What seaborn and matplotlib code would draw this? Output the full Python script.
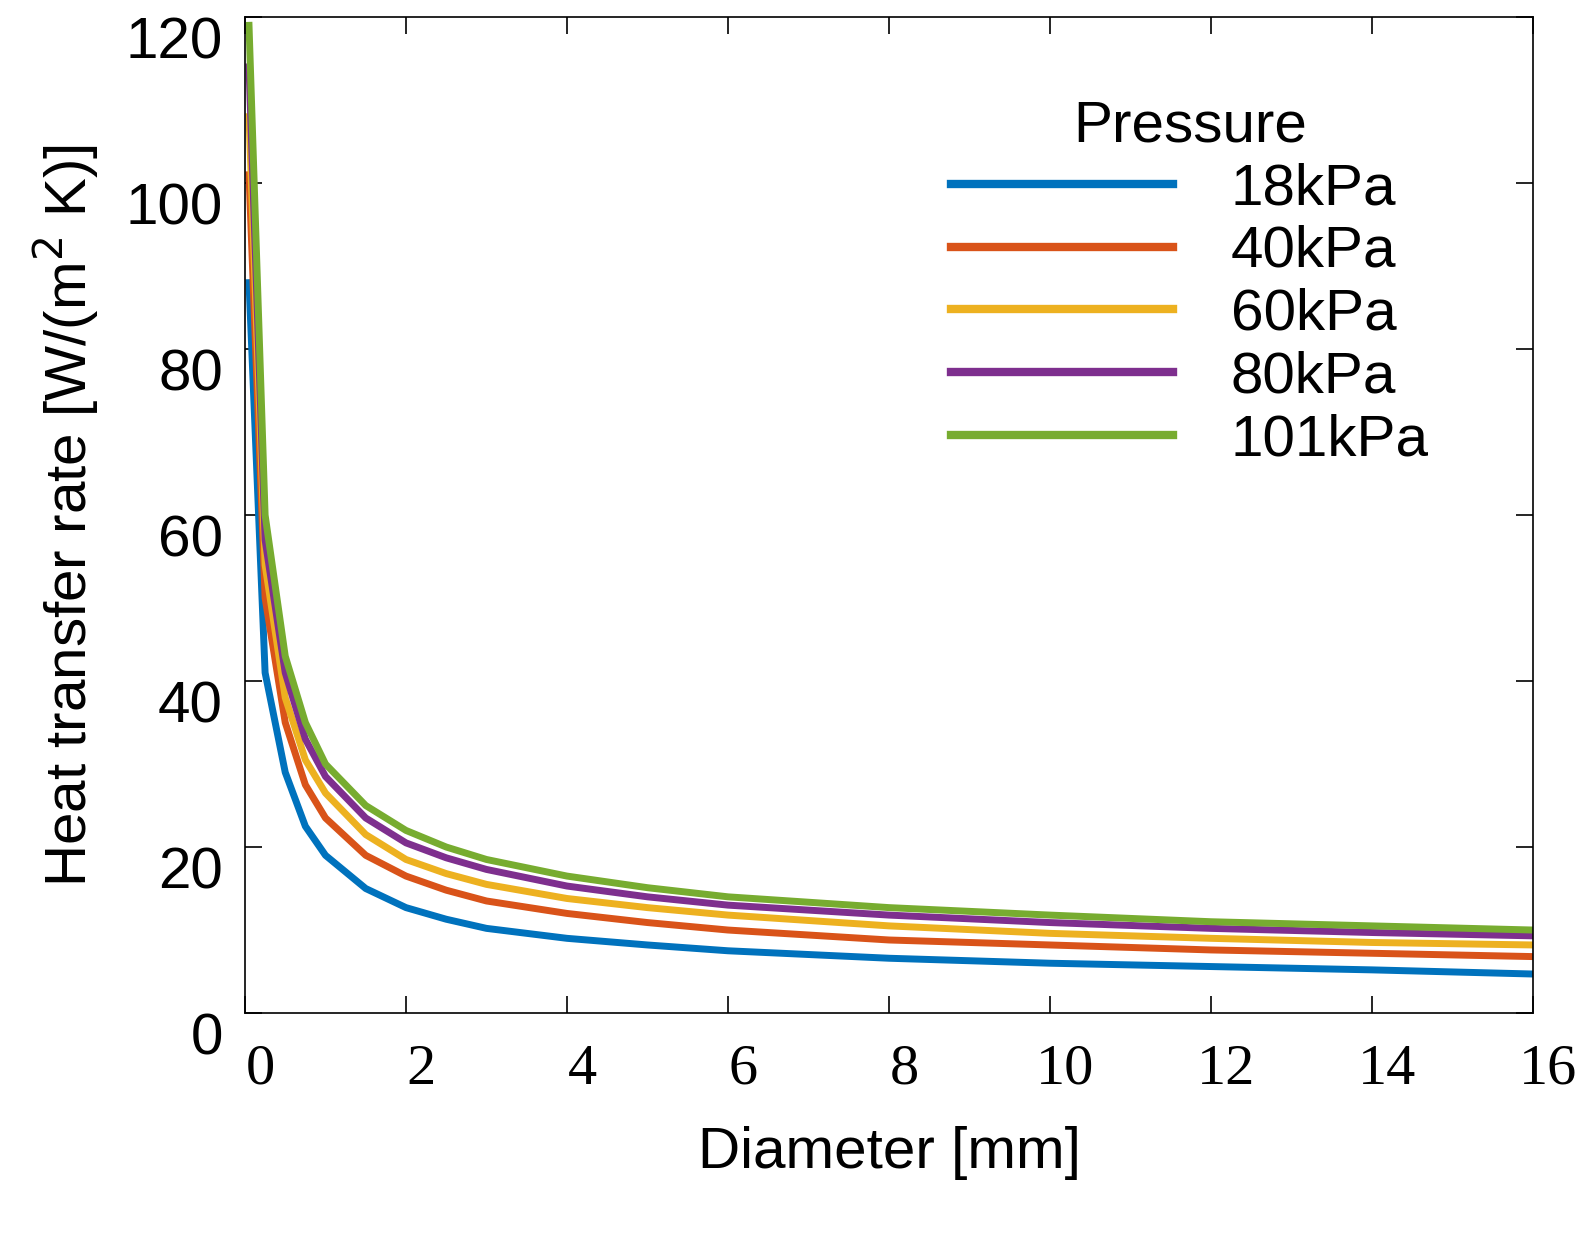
import matplotlib
matplotlib.use("Agg")
import matplotlib.pyplot as plt
import matplotlib.transforms as mtrans
import seaborn as sns
import pandas as pd

plt.rcParams["font.family"] = "Liberation Sans"

diameter = [0.05, 0.25, 0.5, 0.75, 1, 1.5, 2, 2.5, 3, 4, 5, 6, 8, 10, 12, 14, 16]
p18  = [88, 41, 29, 22.5, 19, 15, 12.7, 11.3, 10.2, 9.0, 8.2, 7.5, 6.6, 6.0, 5.6, 5.2, 4.7]
p40  = [101, 50, 35, 27.5, 23.5, 19, 16.5, 14.8, 13.5, 12.0, 10.9, 10.0, 8.8, 8.2, 7.6, 7.2, 6.8]
p60  = [108, 54, 38, 30.5, 26.5, 21.5, 18.5, 16.8, 15.5, 13.8, 12.7, 11.8, 10.5, 9.6, 9.0, 8.5, 8.2]
p80  = [114, 57, 41, 33, 28.5, 23.5, 20.5, 18.7, 17.3, 15.3, 14.0, 13.0, 11.8, 10.9, 10.2, 9.7, 9.3]
p101 = [119, 60, 43, 35, 30, 25, 22, 20.0, 18.5, 16.5, 15.1, 14.0, 12.7, 11.8, 11.0, 10.5, 10.0]
labels = ["18kPa", "40kPa", "60kPa", "80kPa", "101kPa"]
colors = ["#0072BD", "#D95319", "#EDB120", "#7E2F8E", "#77AC30"]

rows = []
for lab, vals in zip(labels, [p18, p40, p60, p80, p101]):
    for d, v in zip(diameter, vals):
        rows.append({"Diameter": d, "h": v, "Pressure": lab})
df = pd.DataFrame(rows)

fig = plt.figure(figsize=(15.96, 12.36), dpi=100)
ax = fig.add_axes([0.1535, 0.1804, 0.807, 0.8058])
sns.lineplot(data=df, x="Diameter", y="h", hue="Pressure", palette=colors,
             hue_order=labels, linewidth=5, ax=ax)
ax.set_xlim(0, 16)
ax.set_ylim(0, 120)
ax.set_xticks(range(0, 17, 2))
ax.set_yticks(range(0, 121, 20))
ax.tick_params(direction="in", length=12, width=1.2, top=True, right=True)
ax.tick_params(axis="y", labelsize=42, pad=16)
ax.tick_params(axis="x", pad=22)
off = mtrans.ScaledTranslation(0, -0.2, fig.dpi_scale_trans)
for t in ax.get_yticklabels():
    t.set_transform(t.get_transform() + off)
offx = mtrans.ScaledTranslation(0.15, 0, fig.dpi_scale_trans)
for t in ax.get_xticklabels():
    t.set_fontfamily("Liberation Serif")
    t.set_fontsize(42)
    t.set_transform(t.get_transform() + offx)
for s in ax.spines.values():
    s.set_linewidth(1.2)
ax.set_xlabel("Diameter [mm]", fontsize=42, labelpad=22)
ax.set_ylabel("Heat transfer rate [W/(m$^2$ K)]", fontsize=42, labelpad=18)
leg = ax.legend(title="Pressure", fontsize=42, title_fontsize=42, frameon=False,
                loc="upper right", bbox_to_anchor=(0.96, 0.97), handlelength=3.8,
                handletextpad=1.0, labelspacing=0.15)
for l in leg.get_lines():
    l.set_linewidth(6)
fig.savefig("out.png", dpi=100)
